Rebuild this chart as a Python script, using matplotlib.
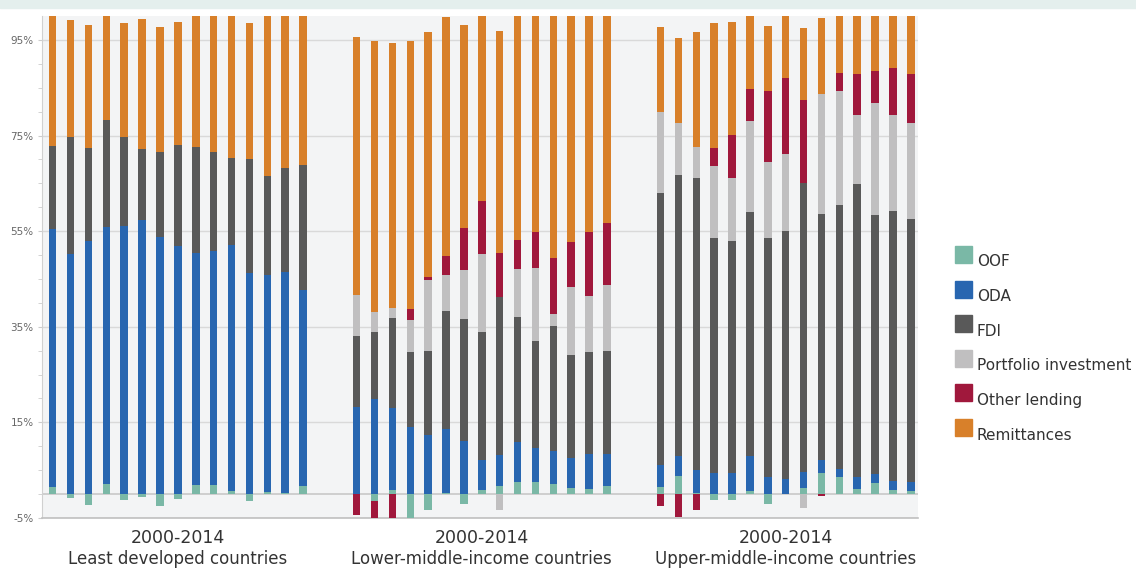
import numpy as np
import matplotlib
matplotlib.use("Agg")
import matplotlib.pyplot as plt
from matplotlib.patches import Rectangle

# series order, bottom to top
series = ["OOF", "ODA", "FDI", "Portfolio investment", "Other lending", "Remittances"]
colors = ["#7ab8a6", "#2866b0", "#595959", "#c0bfc0", "#a0183c", "#d8802a"]

groups = ["Least developed countries", "Lower-middle-income countries", "Upper-middle-income countries"]
period = "2000-2014"

# values in % (one value per year 2000..2014), negatives drawn below zero
oof = [1.4, -0.9, -2.2, 2.2, -1.3, -0.6, -2.4, -1.0, 2.0, 2.0, 0.6, -1.4, 0.4, 0.3, 1.7,
       0.0, -1.5, 0.9, -5.5, -3.3, 0.3, -2.0, 0.9, 1.6, 2.6, 2.6, 2.1, 1.3, 1.1, 1.6,
       1.4, 3.8, 0.2, -1.3, -1.3, 0.6, -2.0, 0.0, 1.3, 4.4, 3.6, 1.1, 2.3, 0.9, 0.7]
oda = [54.1, 50.3, 53.0, 53.6, 56.0, 57.4, 53.7, 51.9, 48.4, 48.9, 51.5, 46.2, 45.4, 46.1, 40.9,
       18.3, 19.9, 17.2, 14.1, 12.3, 13.3, 11.1, 6.3, 6.5, 8.4, 7.0, 7.0, 6.2, 7.3, 6.8,
       4.7, 4.2, 4.9, 4.5, 4.4, 7.3, 3.6, 3.1, 3.4, 2.8, 1.7, 2.4, 1.9, 1.9, 1.9]
fdi = [17.3, 24.4, 19.4, 22.5, 18.6, 14.7, 17.9, 21.2, 22.2, 20.7, 18.3, 23.8, 20.8, 21.8, 26.2,
       14.7, 14.0, 18.7, 15.7, 17.7, 24.6, 25.6, 26.6, 33.2, 26.1, 22.5, 26.1, 21.5, 21.4, 21.6,
       56.8, 58.8, 61.1, 49.0, 48.6, 51.1, 49.9, 52.0, 60.4, 51.3, 55.2, 61.4, 54.2, 56.4, 55.0]
portfolio = [0] * 15 + \
      [8.7, 4.2, 2.1, 6.6, 14.8, 7.6, 10.2, 16.4, -3.3, 10.0, 15.1, 2.5, 14.4, 11.7, 13.8,
       17.1, 10.8, 6.3, 15.2, 13.1, 19.1, 16.0, 16.1, -2.9, 25.1, 23.8, 14.3, 23.5, 20.1, 20.0]
other_lending = [0] * 15 + \
      [-4.3, -3.7, -5.3, 2.3, 0.7, 4.0, 8.7, 11.2, 9.2, 6.0, 7.6, 11.6, 9.4, 13.3, 12.9,
       -2.4, -4.8, -3.3, 3.6, 9.0, 6.6, 14.8, 15.8, 17.3, -0.3, 3.8, 8.6, 6.6, 9.8, 10.3]
remittances = [28.2, 24.5, 25.7, 22.2, 24.0, 27.3, 26.2, 25.7, 27.9, 28.9, 30.1, 28.6, 33.9, 32.3, 31.7,
       54.0, 56.7, 55.5, 56.1, 51.1, 49.9, 42.5, 39.1, 46.4, 47.5, 45.7, 51.2, 47.7, 45.7, 43.8,
       17.8, 17.7, 24.2, 26.2, 23.6, 16.3, 13.7, 13.5, 15.1, 15.9, 12.3, 12.7, 12.0, 11.4, 12.6]

yticks = [-5, 15, 35, 55, 75, 95]

data = np.array([oof, oda, fdi, portfolio, other_lending, remittances], dtype=float)

# 15 bars per group, two empty slots between groups
x = np.concatenate([np.arange(15) + g * 17 for g in range(3)])

fig = plt.figure(figsize=(11.36, 5.69), dpi=100)
fig.patches.append(Rectangle((0, 0.986), 1, 0.014, transform=fig.transFigure,
                             color="#e4efed", zorder=0))
ax = fig.add_axes([42 / 1136, 1 - 518 / 569, 876 / 1136, 502 / 569])
ax.set_facecolor("#f3f4f5")

pos_base = np.zeros(len(x))
neg_base = np.zeros(len(x))
for vals, col in zip(data, colors):
    pos = np.where(vals > 0, vals, 0)
    neg = np.where(vals < 0, vals, 0)
    ax.bar(x, pos, bottom=pos_base, width=0.42, color=col, linewidth=0, zorder=3)
    ax.bar(x, neg, bottom=neg_base, width=0.42, color=col, linewidth=0, zorder=3)
    pos_base += pos
    neg_base += neg

ax.set_ylim(-5, 100)
ax.set_xlim(-0.6, 48.4)
ax.set_yticks(yticks)
ax.set_yticklabels([f"{t}%" for t in yticks], fontsize=7.5, color="#666666")
ax.set_yticks(np.arange(-5, 100, 5), minor=True)
ax.tick_params(axis="y", which="major", length=3, color="#cccccc", pad=3)
ax.tick_params(axis="y", which="minor", length=3, color="#cccccc")
ax.yaxis.grid(True, color="#d9d9d9", linewidth=1, zorder=0)
ax.axhline(0, color="#c8c8c8", linewidth=1.2, zorder=1)

centers = [g * 17 + 7 for g in range(3)]
ax.set_xticks(centers)
ax.set_xticklabels([period] * 3, fontsize=12.5, color="#333333")
ax.tick_params(axis="x", length=0, pad=8)
# group names sit right at the bottom edge, as in the original
for c, name in zip(centers, groups):
    ax.text(c, -41 / 502, name, transform=ax.get_xaxis_transform(), ha="center",
            va="center", fontsize=12, color="#333333")

for s in ["top", "right"]:
    ax.spines[s].set_visible(False)
ax.spines["left"].set_color("#d0d0d0")
ax.spines["bottom"].set_color("#c0c0c0")
ax.spines["bottom"].set_linewidth(1.2)

# legend drawn by hand: square up-left of each label
for i, (name, col) in enumerate(zip(series, colors)):
    top = 246 + i * 34.6
    fig.patches.append(Rectangle((955 / 1136, 1 - (top + 17) / 569), 17 / 1136, 17 / 569,
                                 transform=fig.transFigure, color=col))
    fig.text(977 / 1136, 1 - (top + 16) / 569, name, fontsize=11, color="#333333",
             va="center", ha="left")

fig.savefig("out.png", dpi=100)
